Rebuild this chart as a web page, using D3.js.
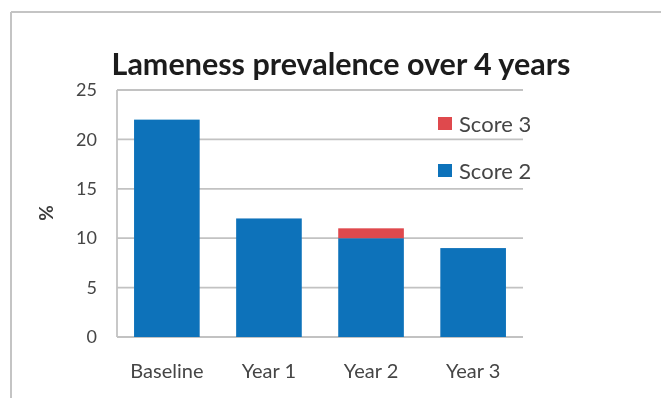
<!DOCTYPE html>
<html>
<head>
<meta charset="utf-8">
<script src="https://cdn.jsdelivr.net/npm/d3@7"></script>
<style>
  html, body { margin: 0; padding: 0; background: #fff; }
  svg { display: block; }
  text { font-family: Lato, "Open Sans", sans-serif; }
</style>
</head>
<body>
<svg id="chart" width="661" height="398"></svg>
<script>
// Lameness prevalence (%) by assessment, split by locomotion score
const categories = ["Baseline", "Year 1", "Year 2", "Year 3"];
const score2 = [22, 12, 10, 9];
const score3 = [0, 0, 1, 0];
const seriesNames = ["Score 3", "Score 2"];
const yTicks = [0, 5, 10, 15, 20, 25];
const titleText = "Lameness prevalence over 4 years";
const yLabel = "%";

const colors = { "Score 2": "#1072ba", "Score 3": "#df484d" };

const svg = d3.select("#chart");
const W = 661, H = 398;

const defs = svg.append("defs");
defs.append("filter").attr("id", "soft")
  .append("feGaussianBlur").attr("stdDeviation", 0.55);

const root = svg.append("g").attr("filter", "url(#soft)");

// outer chart frame (top and left edges)
root.append("line").attr("x1", 11).attr("x2", W).attr("y1", 12).attr("y2", 12)
  .attr("stroke", "#c4c4c4").attr("stroke-width", 2);
root.append("line").attr("x1", 11).attr("x2", 11).attr("y1", 12).attr("y2", H)
  .attr("stroke", "#c4c4c4").attr("stroke-width", 2);

const plot = { left: 117, right: 523, top: 90, bottom: 337 };

const x = d3.scaleBand()
  .domain(categories)
  .range([plot.left, plot.right])
  .paddingInner(0.357)
  .paddingOuter(0.167);

const y = d3.scaleLinear()
  .domain([0, 25])
  .range([plot.bottom, plot.top]);

// horizontal gridlines
root.append("g")
  .selectAll("line")
  .data(yTicks)
  .join("line")
  .attr("x1", plot.left).attr("x2", plot.right)
  .attr("y1", d => y(d)).attr("y2", d => y(d))
  .attr("stroke", "#c2c2c2").attr("stroke-width", 1.8);

// value axis line
root.append("line")
  .attr("x1", plot.left).attr("x2", plot.left)
  .attr("y1", plot.top).attr("y2", plot.bottom)
  .attr("stroke", "#c2c2c2").attr("stroke-width", 1.8);

// y tick labels
const yAxis = d3.axisLeft(y).tickValues(yTicks).tickSize(0).tickPadding(20);
const yg = root.append("g").attr("transform", `translate(${plot.left},0)`).call(yAxis);
yg.select(".domain").remove();
yg.selectAll("text")
  .attr("font-size", 18)
  .attr("fill", "#454545")
  .style("font-family", "Lato, sans-serif");

// x category labels
const xAxis = d3.axisBottom(x).tickSize(0).tickPadding(27);
const xg = root.append("g").attr("transform", `translate(0,${plot.bottom})`).call(xAxis);
xg.select(".domain").remove();
xg.selectAll("text")
  .attr("font-size", 20)
  .attr("fill", "#454545")
  .style("font-family", "Lato, sans-serif");

// stacked bars
const rows = categories.map((c, i) => ({ cat: c, "Score 2": score2[i], "Score 3": score3[i] }));
const stack = d3.stack().keys(["Score 2", "Score 3"]);
const layers = stack(rows);

root.append("g")
  .selectAll("g")
  .data(layers)
  .join("g")
  .attr("fill", d => colors[d.key])
  .selectAll("rect")
  .data(d => d.filter(p => p[1] > p[0]))
  .join("rect")
  .attr("x", d => x(d.data.cat))
  .attr("width", x.bandwidth())
  .attr("y", d => y(d[1]))
  .attr("height", d => y(d[0]) - y(d[1]));

// title
root.append("text")
  .attr("x", 341).attr("y", 75)
  .attr("text-anchor", "middle")
  .attr("font-size", 30.5)
  .attr("font-weight", "bold")
  .attr("fill", "#1e1e1e")
  .text(titleText);

// y axis title
root.append("text")
  .attr("transform", "translate(53,213) rotate(-90)")
  .attr("text-anchor", "middle")
  .attr("font-size", 19)
  .attr("font-weight", "bold")
  .attr("fill", "#3a3a3a")
  .text(yLabel);

// legend
const legend = root.append("g")
  .selectAll("g")
  .data(seriesNames)
  .join("g")
  .attr("transform", (d, i) => `translate(438,${124 + i * 47})`);
legend.append("rect")
  .attr("x", 0).attr("y", -7).attr("width", 14).attr("height", 13)
  .attr("fill", d => colors[d]);
legend.append("text")
  .attr("x", 21).attr("y", 0)
  .attr("dy", "0.35em")
  .attr("font-size", 22)
  .attr("fill", "#454545")
  .text(d => d);
</script>
</body>
</html>
